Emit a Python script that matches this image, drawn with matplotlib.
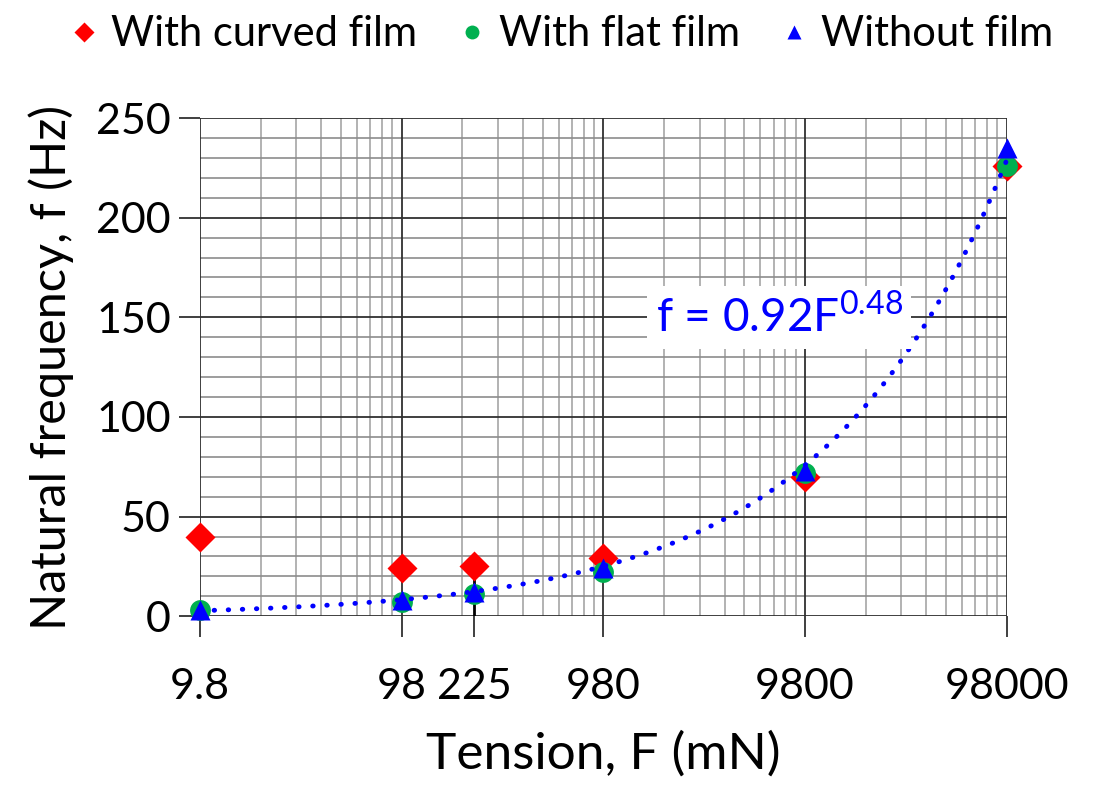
import numpy as np
import matplotlib.pyplot as plt
from matplotlib.lines import Line2D
from matplotlib.ticker import FixedLocator, NullFormatter

plt.rcParams['font.family'] = ['Lato', 'DejaVu Sans']

# tension (mN)
tension = [9.8, 98, 225, 980, 9800, 98000]
# natural frequency (Hz)
curved = [40, 24, 25, 29, 70, 226]
flat = [3, 7, 11, 22, 72, 226]
nofilm = [3, 8, 12, 24, 73, 235]
tick_labels = ['9.8', '98', '225', '980', '9800', '98000']

# power law trend: f = a * F^b
fit_a = 0.92
fit_b = 0.48

fig = plt.figure(figsize=(10.99, 7.87), dpi=100)
ax = fig.add_axes([0.182, 0.217, 0.734, 0.633])

ax.set_xscale('log')
ax.set_xlim(9.8, 98000)
ax.set_ylim(0, 250)

# grid like excel log paper
decades = [9.8 * 10 ** k for k in range(4)]
minor_x = [d * m for d in decades for m in range(2, 10)]
ax.xaxis.set_major_locator(FixedLocator(tension))
ax.xaxis.set_minor_locator(FixedLocator(minor_x))
ax.xaxis.set_minor_formatter(NullFormatter())
ax.set_xticklabels(tick_labels)
ax.set_yticks([0, 50, 100, 150, 200, 250])
ax.set_yticks(np.arange(0, 251, 10), minor=True)

for d in decades + [98000]:
    ax.axvline(d, color='#303030', lw=1.3, zorder=1)
for m in minor_x:
    ax.axvline(m, color='#a6a6a6', lw=1.2, zorder=0.9)
for yv in range(0, 251, 10):
    if yv % 50 == 0:
        ax.axhline(yv, color='#303030', lw=1.3, zorder=1)
    else:
        ax.axhline(yv, color='#8c8c8c', lw=1.2, zorder=0.9)
ax.vlines(225, 0, 21, color='black', lw=2, zorder=1.1)

for s in ax.spines.values():
    s.set_visible(False)

ax.tick_params(axis='x', which='major', length=15, width=1.3, color='#303030',
               labelsize=31, pad=22)
ax.tick_params(axis='x', which='minor', length=0)
ax.tick_params(axis='y', which='major', length=15, width=1.3, color='#303030',
               labelsize=31, pad=6)
ax.tick_params(axis='y', which='minor', length=0)

ax.plot(tension, curved, linestyle='none', marker='D', ms=15, color='#ff0000',
        mec='none', zorder=3, clip_on=False)
ax.plot(tension, flat, linestyle='none', marker='o', ms=15, color='#00b050',
        mec='none', zorder=4, clip_on=False)
ax.plot(tension, nofilm, linestyle='none', marker='^', ms=14, color='#0000ff',
        mec='none', zorder=5, clip_on=False)

xf = np.logspace(np.log10(9.8), np.log10(98000), 300)
ax.plot(xf, fit_a * xf ** fit_b, color='#0000ff', lw=3.5,
        linestyle=(0, (0.1, 2.8)), dash_capstyle='round', zorder=6, clip_on=False)

ax.text(7300, 150, r'f = 0.92F$^{\mathregular{0.48}}$', color='#0000ff',
        fontsize=33, ha='center', va='center', zorder=7,
        bbox=dict(facecolor='white', edgecolor='none', pad=6))

ax.set_xlabel('Tension, F (mN)', fontsize=37, labelpad=18)
ax.set_ylabel('Natural frequency, f (Hz)', fontsize=35, labelpad=16)

handles = [
    Line2D([], [], linestyle='none', marker='D', ms=10, color='#ff0000', mec='none'),
    Line2D([], [], linestyle='none', marker='o', ms=10, color='#00b050', mec='none'),
    Line2D([], [], linestyle='none', marker='^', ms=10, color='#0000ff', mec='none'),
]
fig.legend(handles, ['With curved film', 'With flat film', 'Without film'],
           loc='upper center', bbox_to_anchor=(0.508, 1.028), ncol=3, frameon=False,
           fontsize=30, handletextpad=0.15, columnspacing=0.8, handlelength=1.0)

fig.savefig('out.png', dpi=100)
